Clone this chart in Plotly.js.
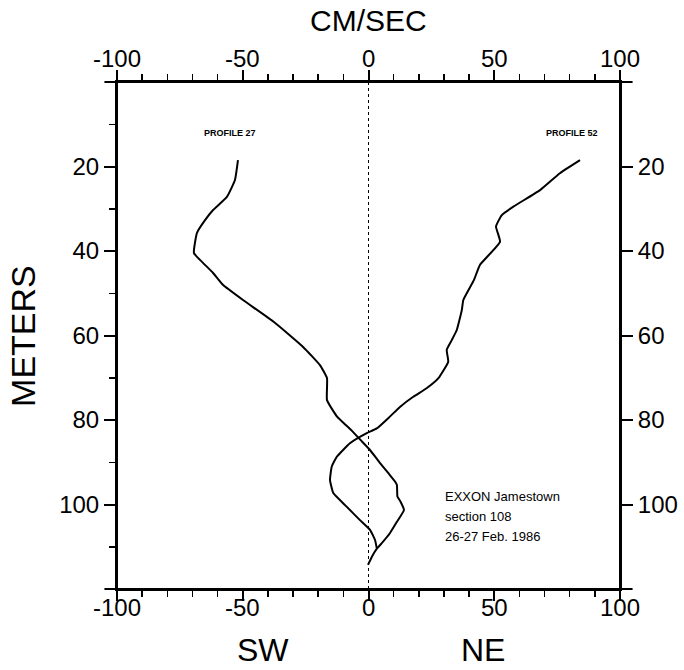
<!DOCTYPE html>
<html>
<head>
<meta charset="utf-8">
<script src="https://cdn.plot.ly/plotly-3.0.1.min.js"></script>
<style>
  html, body { margin: 0; padding: 0; background: #fff; }
  #chart { width: 684px; height: 670px; }
</style>
</head>
<body>
<div id="chart"></div>
<script>
// Current speed profiles (cm/s, + = NE, - = SW) versus depth (m)
const profile27Speed = [-51.9, -53.1, -56.3, -61.8, -65.0, -68.2, -69.4, -65.8, -61.8, -57.9,
  -49.9, -37.6, -26.0, -19.3, -16.5, -16.5, -12.5, -9.0, -6.2, -2.6, 0.6, 4.6, 7.9, 10.6, 11.3,
  11.5, 12.7, 14.1, 11.3, 8.5, 5.2, 3.4, 1.4, -0.2];
const profile27Depth = [18.5, 23.2, 27.2, 30.3, 32.7, 35.7, 40.5, 42.8, 45.2, 48.0,
  51.6, 56.8, 62.7, 67.0, 70.1, 75.3, 79.2, 81.2, 82.8, 85.1, 87.1, 90.2, 92.6, 94.6, 95.4,
  98.1, 99.3, 101.3, 104.1, 106.8, 109.2, 110.4, 112.3, 114.3];

const profile52Speed = [84.1, 76.1, 68.2, 57.6, 53.0, 50.7, 52.3, 44.3, 41.9, 37.7, 37.1, 35.1,
  33.1, 31.1, 31.7, 27.8, 23.1, 17.8, 12.5, 8.5, 3.3, -0.7, -7.4, -12.6, -14.6, -15.3, -14.0,
  -8.7, -3.4, 0.6, 2.6, 3.3];
const profile52Depth = [18.5, 21.6, 25.6, 29.5, 31.5, 34.2, 37.8, 43.3, 46.9, 51.6, 54.0, 58.7,
  61.1, 63.4, 66.2, 70.1, 72.5, 74.5, 76.9, 79.2, 82.0, 83.1, 85.5, 88.7, 91.0, 94.2, 97.3,
  100.5, 103.7, 106.0, 108.4, 110.4];

const speedTicks = [-100, -50, 0, 50, 100];
const depthTicks = [20, 40, 60, 80, 100];
const noteLines = ['EXXON Jamestown', 'section 108', '26-27 Feb. 1986'];

const FONT = 'Liberation Sans, Arial, Helvetica, sans-serif';
const INK = '#000';

const traces = [
  { x: profile27Speed, y: profile27Depth, mode: 'lines', name: 'PROFILE 27',
    line: { color: INK, width: 2, shape: 'spline', smoothing: 0.4 }, hoverinfo: 'x+y' },
  { x: profile52Speed, y: profile52Depth, mode: 'lines', name: 'PROFILE 52',
    line: { color: INK, width: 2, shape: 'spline', smoothing: 0.4 }, hoverinfo: 'x+y' },
  // empty trace that anchors the mirrored top/right axes
  { x: [], y: [], xaxis: 'x2', yaxis: 'y2', mode: 'lines', showlegend: false, hoverinfo: 'skip' }
];

// speed axes: ticks drawn by Plotly, labels placed as annotations (tighter to the frame)
const xBase = {
  range: [-100, 100], tickmode: 'array', tickvals: speedTicks, showticklabels: false,
  ticks: 'outside', ticklen: 10, tickwidth: 2, tickcolor: INK,
  minor: { dtick: 10, tick0: 0, ticks: 'outside', ticklen: 6, tickwidth: 1.5, tickcolor: INK },
  showline: true, linewidth: 2, linecolor: INK, zeroline: false, showgrid: false, fixedrange: true
};
const yBase = {
  range: [120, 0], tickmode: 'array', tickvals: depthTicks, ticktext: depthTicks.map(String),
  ticks: 'outside', ticklen: 11, tickwidth: 2, tickcolor: INK,
  showline: true, linewidth: 2, linecolor: INK, zeroline: false, showgrid: false,
  tickfont: { family: FONT, size: 24, color: INK }, fixedrange: true
};

const annText = (text, x, y, size, extra) => Object.assign({
  text: text, x: x, y: y, showarrow: false, xanchor: 'center', yanchor: 'middle',
  font: { family: FONT, size: size, color: INK }
}, extra || {});

const speedLabels = [];
speedTicks.forEach(v => {
  speedLabels.push(annText(String(v), v, -0.037, 24, { xref: 'x', yref: 'paper' }));
  speedLabels.push(annText(String(v), v, 1.047, 24, { xref: 'x', yref: 'paper' }));
});

const annotations = [
  annText('CM/SEC', 0.5, 1.122, 30, { xref: 'paper', yref: 'paper' }),
  annText('METERS', -0.188, 0.5, 34, { xref: 'paper', yref: 'paper', textangle: -90 }),
  annText('SW', 0.29, -0.121, 32, { xref: 'paper', yref: 'paper' }),
  annText('NE', 0.727, -0.121, 32, { xref: 'paper', yref: 'paper' }),
  annText('<b>PROFILE 27</b>', -55, 12, 9, { xref: 'x', yref: 'y' }),
  annText('<b>PROFILE 52</b>', 81, 12, 9, { xref: 'x', yref: 'y' })
].concat(speedLabels).concat(noteLines.map((t, i) =>
  annText(t, 29.5, 98 + i * 4.8, 13, { xref: 'x', yref: 'y', xanchor: 'left' })));

const line = (x0, y0, x1, y1, xref, yref, extra) => Object.assign({
  type: 'line', x0: x0, y0: y0, x1: x1, y1: y1, xref: xref, yref: yref,
  line: { color: INK, width: 2 }
}, extra || {});

const shapes = [
  // zero-speed reference
  line(0, 0, 0, 1, 'x', 'paper', { line: { color: INK, width: 1, dash: 'dot' }, layer: 'below' }),
  // frame edges extended past the corners
  line(-0.025, 0, 1.025, 0, 'paper', 'paper'),
  line(-0.025, 1, 1.025, 1, 'paper', 'paper'),
  line(0, -0.022, 0, 1.022, 'paper', 'paper'),
  line(1, -0.022, 1, 1.022, 'paper', 'paper')
];

const layout = {
  width: 684, height: 670,
  margin: { l: 117, r: 64, t: 82, b: 81 },
  paper_bgcolor: '#fff', plot_bgcolor: '#fff',
  showlegend: false,
  xaxis: Object.assign({}, xBase, { side: 'bottom', anchor: 'y' }),
  xaxis2: Object.assign({}, xBase, { side: 'top', overlaying: 'x', anchor: 'y2' }),
  yaxis: Object.assign({}, yBase, { side: 'left', anchor: 'x',
    minor: { dtick: 10, tick0: 0, ticks: 'outside', ticklen: 6, tickwidth: 1.5, tickcolor: INK } }),
  yaxis2: Object.assign({}, yBase, { side: 'right', overlaying: 'y', anchor: 'x2' }),
  annotations: annotations,
  shapes: shapes
};

Plotly.newPlot('chart', traces, layout, { displayModeBar: false, staticPlot: true });
</script>
</body>
</html>
